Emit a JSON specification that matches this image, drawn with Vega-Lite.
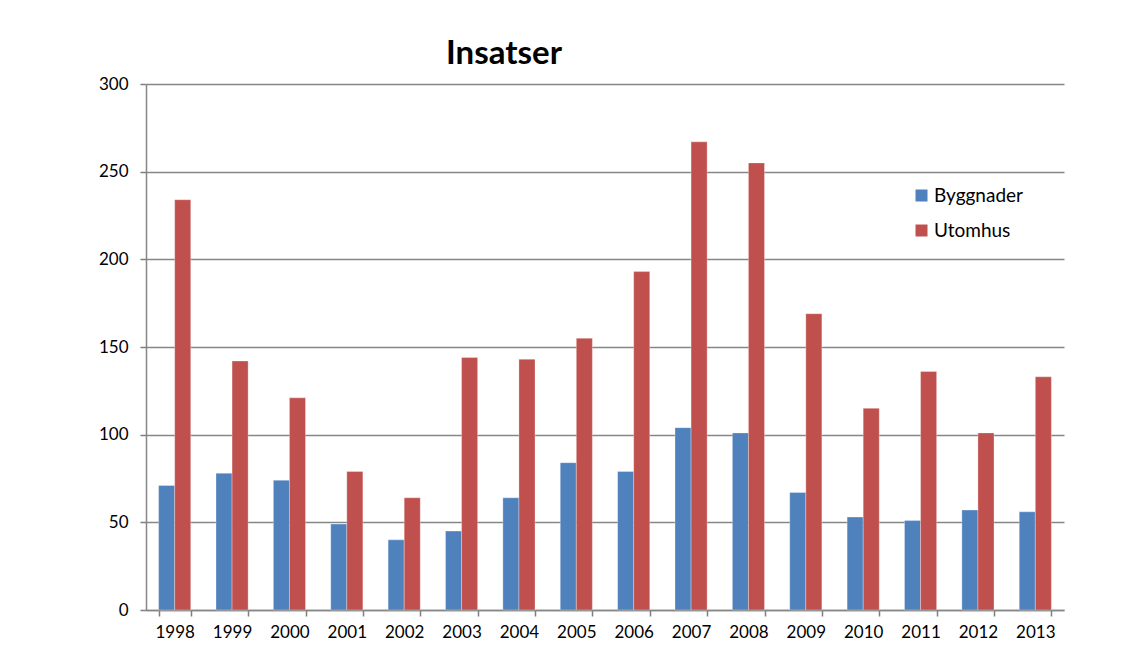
{
  "$schema": "https://vega.github.io/schema/vega-lite/v6.json",
  "autosize": "none",
  "width": 918,
  "height": 526,
  "padding": {"left": 146, "top": 84, "right": 66, "bottom": 49},
  "background": "white",
  "title": {
    "text": "Insatser",
    "font": "Lato",
    "fontSize": 33,
    "fontWeight": "bold",
    "color": "black",
    "anchor": "middle",
    "dx": -101,
    "offset": 4
  },
  "data": {
    "values": [
      {"year": "1998", "serie": "Byggnader", "value": 71},
      {"year": "1998", "serie": "Utomhus", "value": 234},
      {"year": "1999", "serie": "Byggnader", "value": 78},
      {"year": "1999", "serie": "Utomhus", "value": 142},
      {"year": "2000", "serie": "Byggnader", "value": 74},
      {"year": "2000", "serie": "Utomhus", "value": 121},
      {"year": "2001", "serie": "Byggnader", "value": 49},
      {"year": "2001", "serie": "Utomhus", "value": 79},
      {"year": "2002", "serie": "Byggnader", "value": 40},
      {"year": "2002", "serie": "Utomhus", "value": 64},
      {"year": "2003", "serie": "Byggnader", "value": 45},
      {"year": "2003", "serie": "Utomhus", "value": 144},
      {"year": "2004", "serie": "Byggnader", "value": 64},
      {"year": "2004", "serie": "Utomhus", "value": 143},
      {"year": "2005", "serie": "Byggnader", "value": 84},
      {"year": "2005", "serie": "Utomhus", "value": 155},
      {"year": "2006", "serie": "Byggnader", "value": 79},
      {"year": "2006", "serie": "Utomhus", "value": 193},
      {"year": "2007", "serie": "Byggnader", "value": 104},
      {"year": "2007", "serie": "Utomhus", "value": 267},
      {"year": "2008", "serie": "Byggnader", "value": 101},
      {"year": "2008", "serie": "Utomhus", "value": 255},
      {"year": "2009", "serie": "Byggnader", "value": 67},
      {"year": "2009", "serie": "Utomhus", "value": 169},
      {"year": "2010", "serie": "Byggnader", "value": 53},
      {"year": "2010", "serie": "Utomhus", "value": 115},
      {"year": "2011", "serie": "Byggnader", "value": 51},
      {"year": "2011", "serie": "Utomhus", "value": 136},
      {"year": "2012", "serie": "Byggnader", "value": 57},
      {"year": "2012", "serie": "Utomhus", "value": 101},
      {"year": "2013", "serie": "Byggnader", "value": 56},
      {"year": "2013", "serie": "Utomhus", "value": 133}
    ]
  },
  "mark": {"type": "bar", "stroke": "white", "strokeWidth": 0.5, "strokeOpacity": 0.6},
  "encoding": {
    "x": {
      "field": "year",
      "type": "nominal",
      "scale": {"paddingInner": 0.44, "paddingOuter": 0.22},
      "axis": {
        "title": null,
        "labelAngle": 0,
        "tickBand": "extent",
        "labelFont": "Lato",
        "labelFontSize": 17,
        "labelColor": "black",
        "labelPadding": 8,
        "tickSize": 6,
        "tickColor": "#7f7f7f",
        "tickWidth": 1.5,
        "domainColor": "#868686",
        "domainWidth": 1.5,
        "grid": false
      }
    },
    "xOffset": {"field": "serie", "sort": ["Byggnader", "Utomhus"]},
    "y": {
      "field": "value",
      "type": "quantitative",
      "scale": {"domain": [0, 300], "nice": false},
      "axis": {
        "title": null,
        "values": [0, 50, 100, 150, 200, 250, 300],
        "labelFont": "Lato",
        "labelFontSize": 17,
        "labelColor": "black",
        "labelPadding": 12,
        "tickSize": 6,
        "tickColor": "#7f7f7f",
        "tickWidth": 1.5,
        "domainColor": "#868686",
        "domainWidth": 1.5,
        "grid": true,
        "gridColor": "#868686",
        "gridWidth": 1.5
      }
    },
    "color": {
      "field": "serie",
      "type": "nominal",
      "scale": {"domain": ["Byggnader", "Utomhus"], "range": ["#4F81BD", "#C0504D"]},
      "legend": {
        "title": null,
        "orient": "none",
        "legendX": 766,
        "legendY": 102,
        "symbolType": "square",
        "symbolSize": 144,
        "symbolStrokeWidth": 0,
        "labelFont": "Lato",
        "labelFontSize": 19,
        "labelColor": "black",
        "labelOffset": 3,
        "rowPadding": 15
      }
    }
  },
  "config": {"view": {"stroke": null}}
}
